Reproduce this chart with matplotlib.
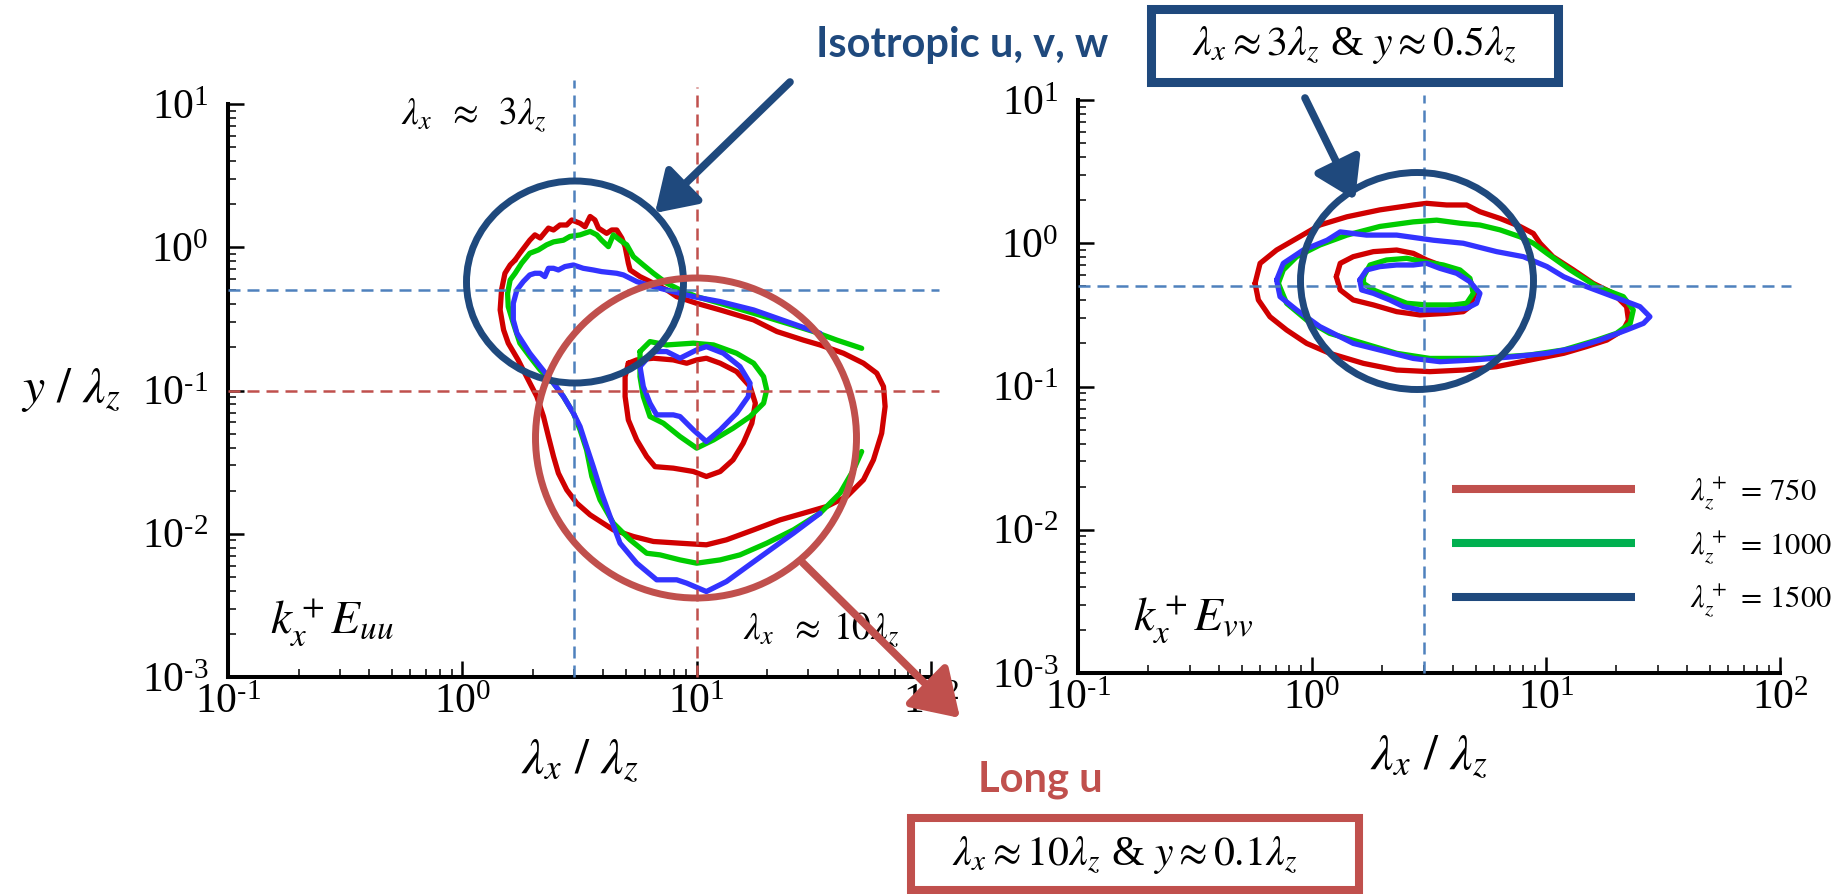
import numpy as np
import matplotlib
matplotlib.use("Agg")
import matplotlib.pyplot as plt
from matplotlib.patches import Ellipse, Rectangle
from matplotlib.lines import Line2D
from matplotlib.ticker import FuncFormatter, LogLocator

plt.rcParams["font.family"] = "serif"
plt.rcParams["font.serif"] = ["Liberation Serif", "DejaVu Serif"]
plt.rcParams["mathtext.fontset"] = "stix"
plt.rcParams["axes.unicode_minus"] = False

W, H = 1847, 894

# ---- k_x E_uu contours (lambda_x/lambda_z , y/lambda_z) ----
uu750_out_x = [1.68, 1.76, 1.94, 2.04, 2.15, 2.33, 2.45, 2.61, 2.79, 2.93, 3.18, 3.34, 3.51, 3.68, 3.81,
               4.13, 4.34, 4.56, 4.79, 4.95, 5.11, 5.20, 5.73, 6.54, 7.45, 8.22, 10.0, 12.6, 17.5, 22.0,
               28.5, 33.6, 42.3, 51.5, 58.7, 62.7, 63.7, 61.6, 56.8, 51.5, 43.7, 35.9, 28.5, 22.7, 17.5,
               13.4, 11.0, 8.49, 6.54, 5.37, 4.41, 3.51, 3.08, 2.79, 2.57, 2.45, 2.33, 2.22, 2.08, 1.88,
               1.73, 1.57, 1.50, 1.45, 1.47, 1.52, 1.60]
uu750_out_y = [0.815, 0.908, 1.12, 1.22, 1.16, 1.36, 1.32, 1.43, 1.43, 1.55, 1.47, 1.39, 1.64, 1.55, 1.36,
               1.25, 1.32, 1.32, 1.16, 1.01, 0.773, 0.694, 0.624, 0.561, 0.504, 0.452, 0.406, 0.365, 0.311, 0.258,
               0.225, 0.208, 0.182, 0.155, 0.132, 0.1065, 0.0773, 0.0503, 0.0328, 0.0238, 0.0182, 0.0155, 0.0139,
               0.0125, 0.01065, 0.00907, 0.00837, 0.00859, 0.00883, 0.00957, 0.01065, 0.01355, 0.01634, 0.02025,
               0.02646, 0.0346, 0.0477, 0.0658, 0.0907, 0.125, 0.1635, 0.214, 0.265, 0.365, 0.504, 0.658, 0.752]
uu750_in_x = [5.11, 5.55, 6.54, 7.95, 9.07, 10.0, 11.0, 12.6, 14.8, 16.9, 17.8, 17.2, 15.8, 14.3, 12.6,
              11.0, 9.68, 7.95, 6.64, 6.12, 5.55, 5.11, 4.95, 4.95]
uu750_in_y = [0.155, 0.1635, 0.168, 0.1635, 0.155, 0.1635, 0.168, 0.155, 0.1355, 0.1065, 0.0815, 0.0591,
              0.0429, 0.0328, 0.0272, 0.0251, 0.0272, 0.0287, 0.0294, 0.0346, 0.0452, 0.0623, 0.0907, 0.125]

uu1000_out_x = [50.6, 39.6, 31.5, 24.2, 17.5, 12.6, 10.0, 8.49, 7.45, 6.54, 5.92, 5.37, 5.03, 4.71, 4.41,
                4.20, 3.93, 3.75, 3.51, 3.18, 2.88, 2.70, 2.45, 2.29, 2.11, 1.94, 1.79, 1.68, 1.60, 1.56,
                1.57, 1.65, 1.76, 1.94, 2.15, 2.45, 2.70, 2.98, 3.18, 3.39, 3.57, 3.87, 4.41, 5.20, 6.12,
                6.98, 8.49, 10.0, 12.6, 15.3, 19.9, 25.9, 33.6, 40.9, 46.7, 50.6]
uu1000_out_y = [0.197, 0.225, 0.258, 0.295, 0.346, 0.406, 0.452, 0.504, 0.561, 0.658, 0.752, 0.860, 1.04,
                1.12, 1.22, 1.01, 1.12, 1.22, 1.29, 1.22, 1.19, 1.12, 1.09, 1.04, 0.957, 0.908, 0.773, 0.658,
                0.591, 0.477, 0.385, 0.295, 0.214, 0.1725, 0.139, 0.1124, 0.0907, 0.0694, 0.0531, 0.0385,
                0.0251, 0.01724, 0.01185, 0.00907, 0.00731, 0.00712, 0.00657, 0.00623, 0.00657, 0.00712,
                0.00859, 0.01065, 0.0139, 0.0192, 0.0279, 0.0375]
uu1000_in_x = [5.73, 6.32, 7.45, 9.68, 11.8, 14.8, 17.5, 19.3, 19.9, 19.3, 16.9, 14.3, 11.8, 10.0, 8.49,
               7.21, 6.32, 5.92, 5.73, 5.73]
uu1000_in_y = [0.187, 0.2195, 0.208, 0.214, 0.208, 0.182, 0.155, 0.125, 0.101, 0.0815, 0.0658, 0.0545,
               0.0452, 0.0396, 0.0477, 0.0591, 0.0658, 0.0907, 0.125, 0.1725]

uu1500_out_x = [33.6, 24.2, 17.5, 12.6, 9.68, 7.95, 6.54, 5.55, 4.87, 4.56, 3.93, 3.62, 3.28, 2.98, 2.74,
                2.57, 2.45, 2.33, 2.25, 2.15, 2.04, 1.94, 1.82, 1.71, 1.65, 1.65, 1.71, 1.82, 1.94, 2.15,
                2.45, 2.70, 2.98, 3.18, 3.39, 3.62, 3.93, 4.27, 4.71, 5.55, 6.75, 8.22, 9.07, 11.0, 13.4,
                16.4, 20.6, 25.9, 33.6]
uu1500_out_y = [0.251, 0.303, 0.365, 0.4175, 0.452, 0.490, 0.531, 0.576, 0.641, 0.658, 0.676, 0.694, 0.713,
                0.752, 0.733, 0.694, 0.713, 0.713, 0.624, 0.658, 0.658, 0.641, 0.576, 0.504, 0.406, 0.311,
                0.251, 0.214, 0.182, 0.147, 0.1124, 0.0907, 0.0694, 0.056, 0.0406, 0.0294, 0.0192, 0.0132,
                0.00859, 0.00623, 0.00477, 0.00477, 0.00452, 0.00395, 0.00464, 0.0059, 0.00772, 0.0101, 0.0139]
uu1500_in_x = [5.73, 6.54, 7.45, 8.49, 10.0, 11.0, 13.0, 15.3, 16.9, 16.6, 14.8, 12.6, 11.0, 9.68, 8.49,
               7.95, 6.75, 6.32, 5.92]
uu1500_in_y = [0.147, 0.187, 0.187, 0.168, 0.192, 0.2025, 0.182, 0.147, 0.1124, 0.0907, 0.0694, 0.0531,
               0.044, 0.0531, 0.0658, 0.0676, 0.0676, 0.0815, 0.1065]

# ---- k_x E_vv contours ----
vv750_out_x = [0.571, 0.600, 0.706, 0.860, 1.08, 1.41, 1.95, 2.71, 3.09, 3.76, 4.58, 5.22, 6.36, 7.74, 8.83,
               9.43, 10.7, 13.1, 15.9, 19.4, 22.1, 22.5, 21.4, 18.2, 14.9, 11.9, 8.54, 6.15, 4.43, 3.19,
               2.30, 1.66, 1.19, 0.949, 0.779, 0.661, 0.590]
vv750_out_y = [0.525, 0.724, 0.897, 1.08, 1.34, 1.53, 1.71, 1.85, 1.90, 1.85, 1.85, 1.66, 1.49, 1.31, 1.17,
               1.00, 0.806, 0.651, 0.525, 0.447, 0.361, 0.291, 0.248, 0.211, 0.190, 0.1705, 0.153, 0.1376,
               0.1303, 0.127, 0.1303, 0.145, 0.1705, 0.200, 0.248, 0.307, 0.402]
vv750_in_x = [1.27, 1.32, 1.50, 1.83, 2.30, 2.71, 3.09, 3.52, 4.15, 4.73, 4.97, 4.73, 4.43, 3.76, 2.89,
              2.30, 1.83, 1.50, 1.32]
vv750_in_y = [0.584, 0.724, 0.806, 0.874, 0.897, 0.850, 0.764, 0.705, 0.651, 0.554, 0.447, 0.361, 0.333,
              0.324, 0.316, 0.333, 0.371, 0.402, 0.472]

vv1000_out_x = [0.718, 0.754, 0.860, 1.08, 1.41, 1.95, 2.71, 3.41, 4.29, 5.22, 6.36, 7.74, 8.83, 10.1, 12.7,
                16.5, 21.4, 23.6, 22.9, 20.0, 16.5, 11.9, 8.54, 5.22, 3.19, 2.30, 1.66, 1.19, 0.949, 0.779]
vv1000_out_y = [0.525, 0.651, 0.806, 0.972, 1.14, 1.31, 1.41, 1.45, 1.38, 1.34, 1.24, 1.11, 1.00, 0.850,
                0.651, 0.498, 0.424, 0.342, 0.276, 0.235, 0.211, 0.180, 0.166, 0.157, 0.157, 0.1705, 0.200,
                0.235, 0.291, 0.381]
vv1000_in_x = [1.66, 1.77, 2.08, 2.54, 2.99, 3.64, 4.29, 4.73, 4.89, 4.58, 4.02, 3.09, 2.54, 2.15, 1.83, 1.66]
vv1000_in_y = [0.584, 0.705, 0.764, 0.785, 0.744, 0.705, 0.651, 0.569, 0.447, 0.381, 0.371, 0.371, 0.381,
               0.424, 0.472, 0.525]

vv1500_out_x = [0.706, 0.754, 0.918, 1.16, 1.32, 1.71, 2.30, 3.30, 4.43, 6.15, 8.00, 10.1, 11.9, 14.9, 19.4,
                25.2, 27.8, 26.1, 22.1, 17.0, 13.1, 10.1, 7.25, 4.89, 3.52, 2.71, 2.08, 1.50, 1.08, 0.860, 0.730]
vv1500_out_y = [0.554, 0.724, 0.897, 1.05, 1.20, 1.14, 1.14, 1.05, 1.00, 0.874, 0.806, 0.687, 0.584, 0.498,
                0.424, 0.361, 0.307, 0.276, 0.248, 0.211, 0.185, 0.1705, 0.1615, 0.153, 0.149, 0.157, 0.175,
                0.200, 0.262, 0.342, 0.424]
vv1500_in_x = [1.60, 1.71, 1.95, 2.30, 2.71, 3.09, 3.52, 4.15, 4.73, 5.22, 5.05, 4.58, 3.76, 2.89, 2.46,
               2.15, 1.83, 1.63]
vv1500_in_y = [0.554, 0.651, 0.687, 0.705, 0.705, 0.724, 0.668, 0.617, 0.539, 0.447, 0.381, 0.351, 0.342,
               0.342, 0.361, 0.402, 0.447, 0.472]

legend_labels = [r"$\lambda_z^+\;=\,750$", r"$\lambda_z^+\;=\,1000$", r"$\lambda_z^+\;=\,1500$"]
legend_colors = ["#C0504D", "#00B050", "#1F497D"]

RED, GREEN, BLUE = "#D00000", "#00CC00", "#3333FF"
DASH_BLUE, DASH_RED = "#4F81BD", "#C0504D"
NAVY, BRICK = "#1F497D", "#C0504D"


def log_label(v, pos):
    e = int(round(np.log10(v)))
    if e < 0:
        return r"$\mathdefault{10^{\text{-}%d}}$" % (-e)
    return r"$\mathdefault{10^{%d}}$" % e


fig = plt.figure(figsize=(W / 100, H / 100), dpi=100)
ax1 = fig.add_axes([228 / W, 1 - 677 / H, 703 / W, 573 / H])
ax2 = fig.add_axes([1078 / W, 1 - 673 / H, 702 / W, 573 / H])


def closed(a):
    return np.r_[a, a[:1]]


curves1 = [(uu750_out_x, uu750_out_y, RED, True), (uu750_in_x, uu750_in_y, RED, True),
           (uu1000_out_x, uu1000_out_y, GREEN, False), (uu1000_in_x, uu1000_in_y, GREEN, True),
           (uu1500_out_x, uu1500_out_y, BLUE, False), (uu1500_in_x, uu1500_in_y, BLUE, True)]
curves2 = [(vv750_out_x, vv750_out_y, RED, True), (vv750_in_x, vv750_in_y, RED, True),
           (vv1000_out_x, vv1000_out_y, GREEN, True), (vv1000_in_x, vv1000_in_y, GREEN, True),
           (vv1500_out_x, vv1500_out_y, BLUE, True), (vv1500_in_x, vv1500_in_y, BLUE, True)]

for ax, curves in [(ax1, curves1), (ax2, curves2)]:
    for x, y, c, cl in curves:
        x, y = np.array(x), np.array(y)
        if cl:
            x, y = closed(x), closed(y)
        ax.plot(x, y, color=c, lw=3.8, solid_joinstyle="round", solid_capstyle="round", zorder=2)
    ax.set_xscale("log")
    ax.set_yscale("log")
    ax.set_xlim(0.1, 100)
    ax.set_ylim(0.001, 10)
    ax.xaxis.set_major_locator(LogLocator(base=10, numticks=10))
    ax.yaxis.set_major_locator(LogLocator(base=10, numticks=10))
    ax.xaxis.set_major_formatter(FuncFormatter(log_label))
    ax.yaxis.set_major_formatter(FuncFormatter(log_label))
    for s in ["top", "right"]:
        ax.spines[s].set_visible(False)
    for s in ["left", "bottom"]:
        ax.spines[s].set_linewidth(2.9)
    ax.tick_params(which="major", direction="in", length=11.5, width=1.8, labelsize=30)
    ax.tick_params(which="minor", direction="in", length=5.8, width=1.1)
    ax.tick_params(axis="x", which="major", pad=5)
    ax.tick_params(axis="y", which="major", pad=14)
    ax.patch.set_alpha(0)
    ax.set_xlabel(r"$\lambda_x\ /\ \lambda_z$", fontsize=36, va="center")
    ax.xaxis.set_label_coords(0.5, -0.145)

ax1.set_ylabel(r"$y\ /\ \lambda_z$", fontsize=36, rotation=0, ha="center", va="center")
ax1.yaxis.set_label_coords(-0.223, 0.5)

dash = (0, (4.8, 2.8))
ax1.axvline(3, ymax=1.042, color=DASH_BLUE, lw=1.8, ls=dash, clip_on=False, zorder=3)
ax1.axvline(10, ymax=1.03, color=DASH_RED, lw=1.8, ls=dash, clip_on=False, zorder=3)
ax1.axhline(0.5, xmax=1.011, color=DASH_BLUE, lw=1.8, ls=dash, clip_on=False, zorder=3)
ax1.axhline(0.1, xmax=1.011, color=DASH_RED, lw=1.8, ls=dash, clip_on=False, zorder=3)
ax2.axvline(3, ymax=1.009, color=DASH_BLUE, lw=1.8, ls=dash, clip_on=False, zorder=3)
ax2.axhline(0.5, xmax=1.016, color=DASH_BLUE, lw=1.8, ls=dash, clip_on=False, zorder=3)

handles = [Line2D([], [], color=c, lw=5.8, solid_capstyle="butt") for c in legend_colors]
ax2.legend(handles, legend_labels, loc="upper left", bbox_to_anchor=(0.533, 0.345), frameon=False,
           fontsize=22, handlelength=6.0, handletextpad=1.8, labelspacing=0.55, borderpad=0,
           borderaxespad=0)

# annotation overlay in pixel units
ov = fig.add_axes([0, 0, 1, 1], zorder=5)
ov.set_xlim(0, W)
ov.set_ylim(H, 0)
ov.axis("off")
ov.patch.set_alpha(0)

ov.text(474, 115, r"$\lambda_x\;\;\approx\;\;3\lambda_z$", fontsize=27, ha="center", va="center")
ov.text(821, 630, r"$\lambda_x\;\;\approx\;10\lambda_z$", fontsize=27, ha="center", va="center")
ov.text(332, 622, r"$k_x^+E_{uu}$", fontsize=34, ha="center", va="center")
ov.text(1193, 619, r"$k_x^+E_{vv}$", fontsize=34, ha="center", va="center")

ov.add_patch(Ellipse((575, 282), 217, 202, fill=False, ec=NAVY, lw=5))
ov.add_patch(Ellipse((696, 438), 321, 320, fill=False, ec=BRICK, lw=5))
ov.add_patch(Ellipse((1417, 281), 233, 217, fill=False, ec=NAVY, lw=5))

arrow_blue = dict(arrowstyle="-|>,head_length=0.7,head_width=0.45", color=NAVY, lw=5.5,
                  shrinkA=0, shrinkB=0, mutation_scale=34)
arrow_red = dict(arrowstyle="-|>,head_length=0.7,head_width=0.45", color=BRICK, lw=5.5,
                 shrinkA=0, shrinkB=0, mutation_scale=40)
ov.annotate("", xy=(655, 213), xytext=(790, 82), arrowprops=arrow_blue)
ov.annotate("", xy=(1355, 200), xytext=(1305, 98), arrowprops=arrow_blue)
ov.annotate("", xy=(960, 718), xytext=(803, 563), arrowprops=arrow_red)

ov.text(962, 45, "Isotropic u, v, w", fontsize=30, fontweight="bold", family="Lato", color=NAVY,
        ha="center", va="center")
ov.add_patch(Rectangle((1150.5, 8.5), 407, 73, fill=False, ec=NAVY, lw=6.5))
ov.text(1354, 45, r"$\lambda_x\approx 3\lambda_z$ & $y\approx 0.5\lambda_z$", fontsize=30,
        ha="center", va="center")

ov.text(1040, 780, "Long u", fontsize=30, fontweight="bold", family="Lato", color=BRICK,
        ha="center", va="center")
ov.add_patch(Rectangle((911, 818), 448, 72, fill=False, ec=BRICK, lw=5.8))
ov.text(1125, 855, r"$\lambda_x\approx 10\lambda_z$ & $y\approx 0.1\lambda_z$", fontsize=30,
        ha="center", va="center")

fig.savefig("out.png", dpi=100)
